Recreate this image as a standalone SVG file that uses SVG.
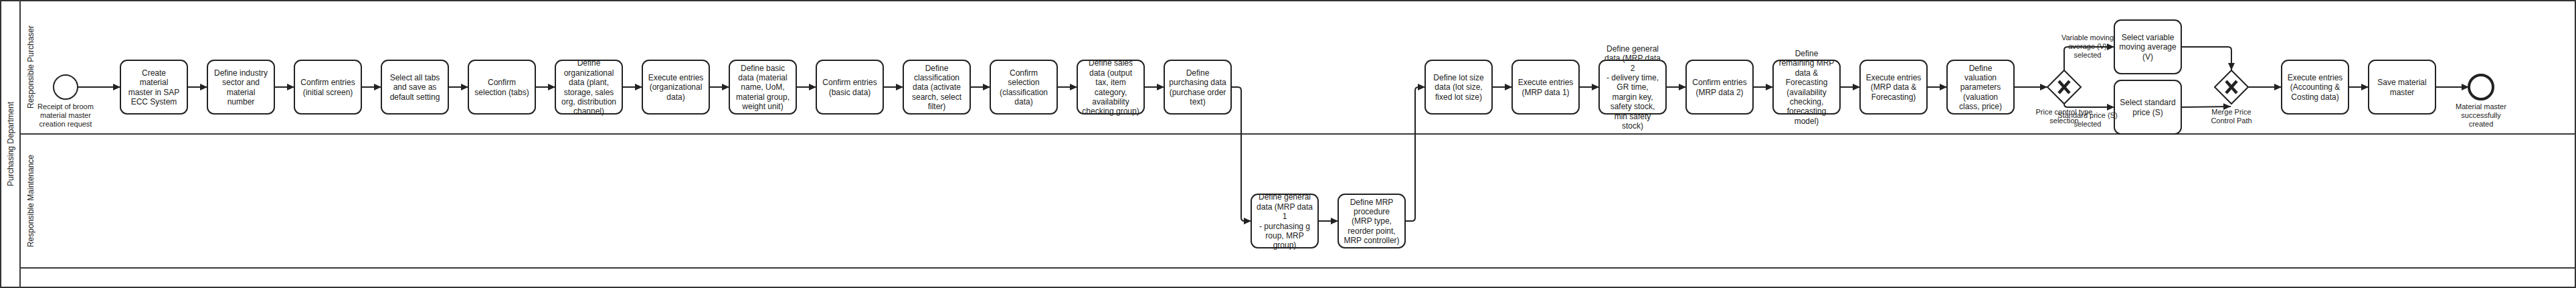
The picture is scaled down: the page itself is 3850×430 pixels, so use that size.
<svg xmlns="http://www.w3.org/2000/svg" width="3850" height="430" viewBox="0 0 3850 430">
<style>
.pool{fill:#fff;stroke:#333;stroke-width:2}
.lane{stroke:#3a3a3a;stroke-width:2}
.task{fill:#fff;stroke:#222;stroke-width:2}
.gw{fill:#fff;stroke:#222;stroke-width:2}
.gx{stroke:#222;stroke-width:4.5;stroke-linecap:butt}
.t{font-family:"Liberation Sans",Arial,sans-serif;font-size:12px;fill:#222;text-anchor:middle}
.l{font-family:"Liberation Sans",Arial,sans-serif;font-size:11px;fill:#222;text-anchor:middle}
.conn{fill:none;stroke:#222;stroke-width:2;marker-end:url(#arr)}
</style>
<defs>
<marker id="arr" markerUnits="userSpaceOnUse" markerWidth="11" markerHeight="10" refX="11" refY="5" orient="auto">
<path d="M0,0 L11,5 L0,10 z" fill="#222"/>
</marker>
</defs>
<g id="pool">
<rect class="pool" x="1" y="1" width="3848" height="428"/>
<line class="lane" x1="30" y1="0" x2="30" y2="430"/>
<line class="lane" x1="30" y1="200" x2="3850" y2="200"/>
<line class="lane" x1="30" y1="400" x2="3850" y2="400"/>
<text class="t" transform="translate(19.5,215) rotate(-90)">Purchasing Department</text>
<text class="t" transform="translate(49.5,100) rotate(-90)">Responsible Purchaser</text>
<text class="t" transform="translate(49.5,300) rotate(-90)">Responsible Maintenance</text>
</g>
<g id="connectors">
<path class="conn" d="M116,130 L180,130"/>
<path class="conn" d="M280,130 L310,130"/>
<path class="conn" d="M410,130 L440,130"/>
<path class="conn" d="M540,130 L570,130"/>
<path class="conn" d="M670,130 L700,130"/>
<path class="conn" d="M800,130 L830,130"/>
<path class="conn" d="M930,130 L960,130"/>
<path class="conn" d="M1060,130 L1090,130"/>
<path class="conn" d="M1190,130 L1220,130"/>
<path class="conn" d="M1320,130 L1350,130"/>
<path class="conn" d="M1450,130 L1480,130"/>
<path class="conn" d="M1580,130 L1610,130"/>
<path class="conn" d="M1710,130 L1740,130"/>
<path class="conn" d="M1840,130 L1850,130 Q1855,130 1855,135 L1855,325 Q1855,330 1860,330 L1870,330"/>
<path class="conn" d="M1970,330 L2000,330"/>
<path class="conn" d="M2100,330 L2110,330 Q2115,330 2115,325 L2115,135 Q2115,130 2120,130 L2130,130"/>
<path class="conn" d="M2230,130 L2260,130"/>
<path class="conn" d="M2360,130 L2390,130"/>
<path class="conn" d="M2490,130 L2520,130"/>
<path class="conn" d="M2620,130 L2650,130"/>
<path class="conn" d="M2750,130 L2780,130"/>
<path class="conn" d="M2880,130 L2910,130"/>
<path class="conn" d="M3010,130 L3060,130"/>
<path class="conn" d="M3085,105 L3085,75 Q3085,70 3090,70 L3160,70"/>
<path class="conn" d="M3085,155 Q3085,160 3090,160 L3160,160"/>
<path class="conn" d="M3260,70 L3330,70 Q3335,70 3335,75 L3335,105"/>
<path class="conn" d="M3260,160 L3334,159"/>
<path class="conn" d="M3360,130 L3410,130"/>
<path class="conn" d="M3510,130 L3540,130"/>
<path class="conn" d="M3640,130 L3690,130"/>
</g>
<g id="start">
<circle cx="98" cy="130" r="18" fill="#fff" stroke="#222" stroke-width="2"/>
<text class="l" x="98" y="163"><tspan x="98">Receipt of broom</tspan><tspan x="98" dy="13">material master</tspan><tspan x="98" dy="13">creation request</tspan></text>
</g>
<g id="t1"><rect class="task" x="180" y="90" width="100" height="80" rx="10"/>
<text class="t" y="112.7"><tspan x="230">Create</tspan><tspan x="230" dy="14.4">material</tspan><tspan x="230" dy="14.4">master in SAP</tspan><tspan x="230" dy="14.4">ECC System</tspan></text></g>
<g id="t2"><rect class="task" x="310" y="90" width="100" height="80" rx="10"/>
<text class="t" y="112.7"><tspan x="360">Define industry</tspan><tspan x="360" dy="14.4">sector and</tspan><tspan x="360" dy="14.4">material</tspan><tspan x="360" dy="14.4">number</tspan></text></g>
<g id="t3"><rect class="task" x="440" y="90" width="100" height="80" rx="10"/>
<text class="t" y="127.1"><tspan x="490">Confirm entries</tspan><tspan x="490" dy="14.4">(initial screen)</tspan></text></g>
<g id="t4"><rect class="task" x="570" y="90" width="100" height="80" rx="10"/>
<text class="t" y="119.9"><tspan x="620">Select all tabs</tspan><tspan x="620" dy="14.4">and save as</tspan><tspan x="620" dy="14.4">default setting</tspan></text></g>
<g id="t5"><rect class="task" x="700" y="90" width="100" height="80" rx="10"/>
<text class="t" y="127.1"><tspan x="750">Confirm</tspan><tspan x="750" dy="14.4">selection (tabs)</tspan></text></g>
<g id="t6"><rect class="task" x="830" y="90" width="100" height="80" rx="10"/>
<text class="t" y="98.3"><tspan x="880">Define</tspan><tspan x="880" dy="14.4">organizational</tspan><tspan x="880" dy="14.4">data (plant,</tspan><tspan x="880" dy="14.4">storage, sales</tspan><tspan x="880" dy="14.4">org, distribution</tspan><tspan x="880" dy="14.4">channel)</tspan></text></g>
<g id="t7"><rect class="task" x="960" y="90" width="100" height="80" rx="10"/>
<text class="t" y="119.9"><tspan x="1010">Execute entries</tspan><tspan x="1010" dy="14.4">(organizational</tspan><tspan x="1010" dy="14.4">data)</tspan></text></g>
<g id="t8"><rect class="task" x="1090" y="90" width="100" height="80" rx="10"/>
<text class="t" y="105.5"><tspan x="1140">Define basic</tspan><tspan x="1140" dy="14.4">data (material</tspan><tspan x="1140" dy="14.4">name, UoM,</tspan><tspan x="1140" dy="14.4">material group,</tspan><tspan x="1140" dy="14.4">weight unit)</tspan></text></g>
<g id="t9"><rect class="task" x="1220" y="90" width="100" height="80" rx="10"/>
<text class="t" y="127.1"><tspan x="1270">Confirm entries</tspan><tspan x="1270" dy="14.4">(basic data)</tspan></text></g>
<g id="t10"><rect class="task" x="1350" y="90" width="100" height="80" rx="10"/>
<text class="t" y="105.5"><tspan x="1400">Define</tspan><tspan x="1400" dy="14.4">classification</tspan><tspan x="1400" dy="14.4">data (activate</tspan><tspan x="1400" dy="14.4">search, select</tspan><tspan x="1400" dy="14.4">filter)</tspan></text></g>
<g id="t11"><rect class="task" x="1480" y="90" width="100" height="80" rx="10"/>
<text class="t" y="112.7"><tspan x="1530">Confirm</tspan><tspan x="1530" dy="14.4">selection</tspan><tspan x="1530" dy="14.4">(classification</tspan><tspan x="1530" dy="14.4">data)</tspan></text></g>
<g id="t12"><rect class="task" x="1610" y="90" width="100" height="80" rx="10"/>
<text class="t" y="98.3"><tspan x="1660">Define sales</tspan><tspan x="1660" dy="14.4">data (output</tspan><tspan x="1660" dy="14.4">tax, item</tspan><tspan x="1660" dy="14.4">category,</tspan><tspan x="1660" dy="14.4">availability</tspan><tspan x="1660" dy="14.4">checking group)</tspan></text></g>
<g id="t13"><rect class="task" x="1740" y="90" width="100" height="80" rx="10"/>
<text class="t" y="112.7"><tspan x="1790">Define</tspan><tspan x="1790" dy="14.4">purchasing data</tspan><tspan x="1790" dy="14.4">(purchase order</tspan><tspan x="1790" dy="14.4">text)</tspan></text></g>
<g id="t14"><rect class="task" x="1870" y="290" width="100" height="80" rx="10"/>
<text class="t" y="298.3"><tspan x="1920">Define general</tspan><tspan x="1920" dy="14.4">data (MRP data</tspan><tspan x="1920" dy="14.4">1</tspan><tspan x="1920" dy="14.4">- purchasing g</tspan><tspan x="1920" dy="14.4">roup, MRP</tspan><tspan x="1920" dy="14.4">group)</tspan></text></g>
<g id="t15"><rect class="task" x="2000" y="290" width="100" height="80" rx="10"/>
<text class="t" y="305.5"><tspan x="2050">Define MRP</tspan><tspan x="2050" dy="14.4">procedure</tspan><tspan x="2050" dy="14.4">(MRP type,</tspan><tspan x="2050" dy="14.4">reorder point,</tspan><tspan x="2050" dy="14.4">MRP controller)</tspan></text></g>
<g id="t16"><rect class="task" x="2130" y="90" width="100" height="80" rx="10"/>
<text class="t" y="119.9"><tspan x="2180">Define lot size</tspan><tspan x="2180" dy="14.4">data (lot size,</tspan><tspan x="2180" dy="14.4">fixed lot size)</tspan></text></g>
<g id="t17"><rect class="task" x="2260" y="90" width="100" height="80" rx="10"/>
<text class="t" y="127.1"><tspan x="2310">Execute entries</tspan><tspan x="2310" dy="14.4">(MRP data 1)</tspan></text></g>
<g id="t18"><rect class="task" x="2390" y="90" width="100" height="80" rx="10"/>
<text class="t" y="76.7"><tspan x="2440">Define general</tspan><tspan x="2440" dy="14.4">data (MRP data</tspan><tspan x="2440" dy="14.4">2</tspan><tspan x="2440" dy="14.4">- delivery time,</tspan><tspan x="2440" dy="14.4">GR time,</tspan><tspan x="2440" dy="14.4">margin key,</tspan><tspan x="2440" dy="14.4">safety stock,</tspan><tspan x="2440" dy="14.4">min safety</tspan><tspan x="2440" dy="14.4">stock)</tspan></text></g>
<g id="t19"><rect class="task" x="2520" y="90" width="100" height="80" rx="10"/>
<text class="t" y="127.1"><tspan x="2570">Confirm entries</tspan><tspan x="2570" dy="14.4">(MRP data 2)</tspan></text></g>
<g id="t20"><rect class="task" x="2650" y="90" width="100" height="80" rx="10"/>
<text class="t" y="83.9"><tspan x="2700">Define</tspan><tspan x="2700" dy="14.4">remaining MRP</tspan><tspan x="2700" dy="14.4">data &amp;</tspan><tspan x="2700" dy="14.4">Forecasting</tspan><tspan x="2700" dy="14.4">(availability</tspan><tspan x="2700" dy="14.4">checking,</tspan><tspan x="2700" dy="14.4">forecasting</tspan><tspan x="2700" dy="14.4">model)</tspan></text></g>
<g id="t21"><rect class="task" x="2780" y="90" width="100" height="80" rx="10"/>
<text class="t" y="119.9"><tspan x="2830">Execute entries</tspan><tspan x="2830" dy="14.4">(MRP data &amp;</tspan><tspan x="2830" dy="14.4">Forecasting)</tspan></text></g>
<g id="t22"><rect class="task" x="2910" y="90" width="100" height="80" rx="10"/>
<text class="t" y="105.5"><tspan x="2960">Define</tspan><tspan x="2960" dy="14.4">valuation</tspan><tspan x="2960" dy="14.4">parameters</tspan><tspan x="2960" dy="14.4">(valuation</tspan><tspan x="2960" dy="14.4">class, price)</tspan></text></g>
<g id="gw1"><path class="gw" d="M3085,105 L3110,130 L3085,155 L3060,130 Z"/>
<line class="gx" x1="3077" y1="121" x2="3093" y2="139"/><line class="gx" x1="3093" y1="121" x2="3077" y2="139"/>
<text class="l" y="171"><tspan x="3085">Price control type</tspan><tspan x="3085" dy="12.5">selection</tspan></text></g>
<g id="t23"><rect class="task" x="3160" y="30" width="100" height="80" rx="10"/>
<text class="t" y="59.9"><tspan x="3210">Select variable</tspan><tspan x="3210" dy="14.4">moving average</tspan><tspan x="3210" dy="14.4">(V)</tspan></text></g>
<g id="t24"><rect class="task" x="3160" y="120" width="100" height="80" rx="10"/>
<text class="t" y="157.1"><tspan x="3210">Select standard</tspan><tspan x="3210" dy="14.4">price (S)</tspan></text></g>
<g id="flowlabels">
<text class="l" y="60"><tspan x="3120">Variable moving</tspan><tspan x="3120" dy="13">average (V)</tspan><tspan x="3120" dy="13">selected</tspan></text>
<text class="l" y="176"><tspan x="3120">Standard price (S)</tspan><tspan x="3120" dy="12.5">selected</tspan></text>
</g>
<g id="gw2"><path class="gw" d="M3335,105 L3360,130 L3335,155 L3310,130 Z"/>
<line class="gx" x1="3327" y1="121" x2="3343" y2="139"/><line class="gx" x1="3343" y1="121" x2="3327" y2="139"/>
<text class="l" y="171"><tspan x="3335">Merge Price</tspan><tspan x="3335" dy="12.5">Control Path</tspan></text></g>
<g id="t25"><rect class="task" x="3410" y="90" width="100" height="80" rx="10"/>
<text class="t" y="119.9"><tspan x="3460">Execute entries</tspan><tspan x="3460" dy="14.4">(Accounting &amp;</tspan><tspan x="3460" dy="14.4">Costing data)</tspan></text></g>
<g id="t26"><rect class="task" x="3540" y="90" width="100" height="80" rx="10"/>
<text class="t" y="127.1"><tspan x="3590">Save material</tspan><tspan x="3590" dy="14.4">master</tspan></text></g>
<g id="end">
<circle cx="3708" cy="130" r="18" fill="#fff" stroke="#222" stroke-width="4"/>
<text class="l" y="163"><tspan x="3708">Material master</tspan><tspan x="3708" dy="13">successfully</tspan><tspan x="3708" dy="13">created</tspan></text>
</g>
</svg>
